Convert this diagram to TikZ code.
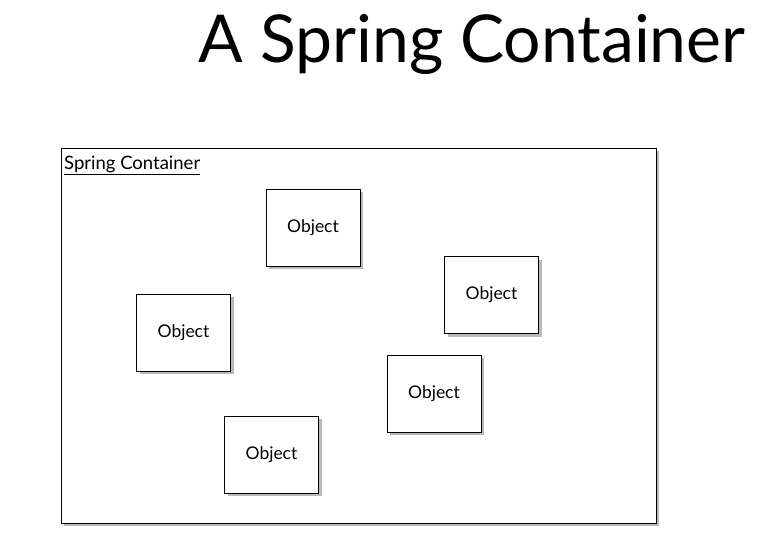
\documentclass[tikz,border=0pt]{standalone}
\usepackage{fontspec}
\setmainfont{Lato}
\usetikzlibrary{shadows}
\tikzset{objbox/.style={draw,thick,fill=white,minimum width=94pt,minimum height=77pt,inner sep=0pt,font=\fontsize{17.5}{20}\selectfont,drop shadow={shadow xshift=3pt,shadow yshift=-3pt,opacity=0.55}}}
\begin{document}
\begin{tikzpicture}[x=1pt,y=-1pt]
\useasboundingbox (0,0) rectangle (758,550);
\node (title) at (472,44) {\fontsize{66}{68}\selectfont A Spring Container};
\node[draw,thick,fill=white,minimum width=595pt,minimum height=375pt,inner sep=0pt,drop shadow={shadow xshift=3pt,shadow yshift=-3pt,opacity=0.55}] (cont) at (358.5,335.5) {};
\node[anchor=west,inner sep=0pt,font=\fontsize{18.5}{20}\selectfont] (lbl) at (64,165) {\underline{Spring Container}};
\node[objbox] (o1) at (313,227.5) {Object};
\node[objbox] (o2) at (491.5,295) {Object};
\node[objbox] (o3) at (183.5,332.5) {Object};
\node[objbox] (o4) at (434,393.5) {Object};
\node[objbox] (o5) at (271.5,454.5) {Object};
\end{tikzpicture}
\end{document}
